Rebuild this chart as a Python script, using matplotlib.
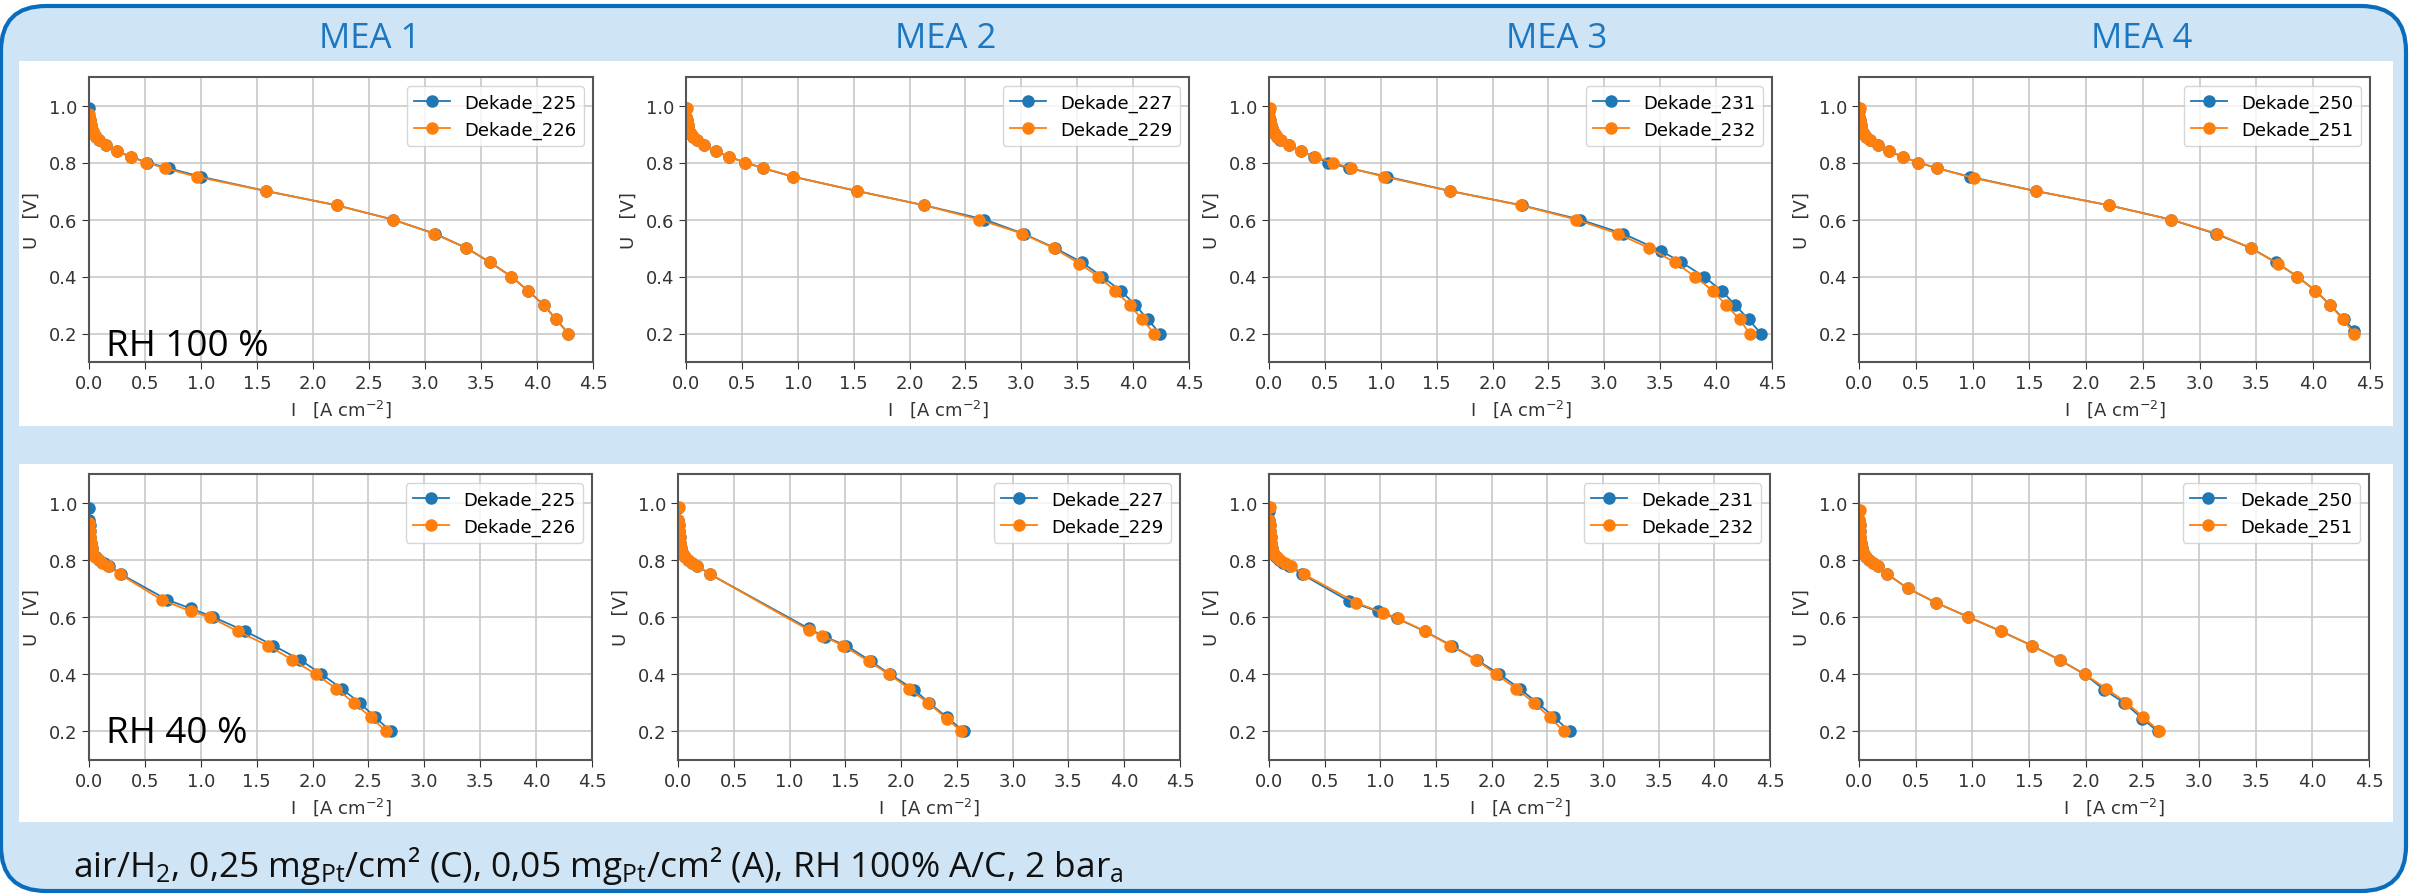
import matplotlib
matplotlib.use("Agg")
import matplotlib.pyplot as plt
from matplotlib.patches import FancyBboxPatch, Rectangle

# --- values: current density I [A/cm2], cell voltage U [V] ---
mea_titles = ["MEA 1", "MEA 2", "MEA 3", "MEA 4"]
rh_labels = ["RH 100 %", "RH 40 %"]
names = [["Dekade_225", "Dekade_226"], ["Dekade_227", "Dekade_229"],
         ["Dekade_231", "Dekade_232"], ["Dekade_250", "Dekade_251"]]

# RH 100 %
u_m1_100_a = [0.99, 0.96, 0.95, 0.94, 0.93, 0.92, 0.91, 0.90, 0.89, 0.88, 0.86, 0.84, 0.82, 0.80, 0.78, 0.75, 0.70, 0.65, 0.60, 0.55, 0.50, 0.45, 0.40, 0.35, 0.30, 0.25, 0.20]
i_m1_100_a = [0.0, 0.003, 0.006, 0.01, 0.015, 0.02, 0.03, 0.045, 0.06, 0.085, 0.155, 0.25, 0.375, 0.52, 0.71, 1.00, 1.58, 2.21, 2.71, 3.09, 3.37, 3.58, 3.77, 3.92, 4.06, 4.17, 4.28]
u_m1_100_b = [0.97, 0.96, 0.95, 0.94, 0.93, 0.92, 0.91, 0.90, 0.89, 0.88, 0.86, 0.84, 0.82, 0.80, 0.78, 0.75, 0.70, 0.65, 0.60, 0.55, 0.50, 0.45, 0.40, 0.35, 0.30, 0.25, 0.20]
i_m1_100_b = [0.0, 0.004, 0.007, 0.011, 0.016, 0.022, 0.032, 0.045, 0.06, 0.085, 0.155, 0.25, 0.375, 0.51, 0.68, 0.96, 1.58, 2.21, 2.71, 3.08, 3.37, 3.58, 3.77, 3.92, 4.06, 4.17, 4.28]

u_m2_100_a = [0.99, 0.96, 0.95, 0.94, 0.93, 0.92, 0.91, 0.90, 0.89, 0.88, 0.86, 0.84, 0.82, 0.80, 0.78, 0.75, 0.70, 0.65, 0.60, 0.55, 0.50, 0.45, 0.40, 0.35, 0.30, 0.25, 0.20]
i_m2_100_a = [0.0, 0.004, 0.007, 0.01, 0.015, 0.02, 0.03, 0.045, 0.065, 0.095, 0.165, 0.265, 0.385, 0.53, 0.69, 0.96, 1.53, 2.13, 2.67, 3.02, 3.30, 3.54, 3.72, 3.89, 4.02, 4.13, 4.24]
u_m2_100_b = [0.99, 0.96, 0.95, 0.94, 0.93, 0.92, 0.91, 0.90, 0.89, 0.88, 0.86, 0.84, 0.82, 0.80, 0.78, 0.75, 0.70, 0.65, 0.60, 0.55, 0.50, 0.445, 0.40, 0.35, 0.30, 0.25, 0.20]
i_m2_100_b = [0.01, 0.004, 0.007, 0.01, 0.015, 0.02, 0.03, 0.045, 0.065, 0.095, 0.165, 0.265, 0.385, 0.53, 0.69, 0.96, 1.53, 2.13, 2.62, 3.01, 3.29, 3.52, 3.69, 3.84, 3.97, 4.08, 4.19]

u_m3_100_a = [0.98, 0.96, 0.95, 0.94, 0.93, 0.92, 0.91, 0.90, 0.89, 0.88, 0.86, 0.84, 0.82, 0.80, 0.78, 0.75, 0.70, 0.65, 0.60, 0.55, 0.49, 0.45, 0.40, 0.35, 0.30, 0.25, 0.20]
i_m3_100_a = [0.0, 0.004, 0.008, 0.012, 0.018, 0.025, 0.035, 0.05, 0.07, 0.10, 0.18, 0.285, 0.405, 0.53, 0.715, 1.06, 1.62, 2.26, 2.78, 3.17, 3.505, 3.69, 3.89, 4.05, 4.17, 4.29, 4.40]
u_m3_100_b = [0.99, 0.96, 0.95, 0.94, 0.93, 0.92, 0.91, 0.90, 0.89, 0.88, 0.86, 0.84, 0.82, 0.80, 0.78, 0.75, 0.70, 0.65, 0.60, 0.55, 0.50, 0.45, 0.40, 0.35, 0.30, 0.25, 0.20]
i_m3_100_b = [0.01, 0.004, 0.008, 0.012, 0.018, 0.025, 0.035, 0.05, 0.07, 0.105, 0.18, 0.285, 0.41, 0.57, 0.735, 1.03, 1.62, 2.25, 2.75, 3.12, 3.40, 3.63, 3.81, 3.97, 4.09, 4.21, 4.30]

u_m4_100_a = [0.98, 0.96, 0.95, 0.94, 0.93, 0.92, 0.91, 0.90, 0.89, 0.88, 0.86, 0.84, 0.82, 0.80, 0.78, 0.75, 0.70, 0.65, 0.60, 0.55, 0.50, 0.45, 0.40, 0.35, 0.30, 0.25, 0.21]
i_m4_100_a = [0.0, 0.004, 0.007, 0.01, 0.015, 0.02, 0.03, 0.045, 0.065, 0.10, 0.165, 0.265, 0.385, 0.52, 0.69, 0.975, 1.555, 2.20, 2.745, 3.14, 3.45, 3.67, 3.86, 4.02, 4.15, 4.27, 4.36]
u_m4_100_b = [0.99, 0.96, 0.95, 0.94, 0.93, 0.92, 0.91, 0.90, 0.89, 0.88, 0.86, 0.84, 0.82, 0.80, 0.78, 0.745, 0.70, 0.65, 0.60, 0.55, 0.50, 0.445, 0.40, 0.35, 0.30, 0.25, 0.20]
i_m4_100_b = [0.01, 0.004, 0.007, 0.01, 0.015, 0.02, 0.03, 0.045, 0.065, 0.10, 0.165, 0.265, 0.385, 0.52, 0.69, 1.015, 1.555, 2.20, 2.745, 3.155, 3.45, 3.69, 3.86, 4.02, 4.15, 4.26, 4.36]

# RH 40 %
u_m1_40_a = [0.98, 0.94, 0.92, 0.90, 0.88, 0.86, 0.84, 0.82, 0.81, 0.80, 0.79, 0.78, 0.75, 0.66, 0.63, 0.60, 0.55, 0.50, 0.45, 0.40, 0.35, 0.30, 0.25, 0.20]
i_m1_40_a = [0.0, 0.003, 0.006, 0.009, 0.013, 0.018, 0.025, 0.04, 0.06, 0.09, 0.13, 0.18, 0.285, 0.70, 0.91, 1.11, 1.40, 1.65, 1.89, 2.08, 2.26, 2.42, 2.56, 2.70]
u_m1_40_b = [0.93, 0.92, 0.90, 0.88, 0.86, 0.84, 0.82, 0.81, 0.80, 0.79, 0.78, 0.75, 0.66, 0.62, 0.60, 0.55, 0.50, 0.45, 0.40, 0.35, 0.30, 0.25, 0.20]
i_m1_40_b = [0.0, 0.004, 0.007, 0.011, 0.016, 0.023, 0.035, 0.055, 0.085, 0.12, 0.17, 0.275, 0.65, 0.91, 1.08, 1.33, 1.60, 1.82, 2.03, 2.21, 2.37, 2.52, 2.66]

u_m2_40_a = [0.98, 0.94, 0.92, 0.90, 0.88, 0.86, 0.84, 0.82, 0.81, 0.80, 0.79, 0.78, 0.75, 0.56, 0.53, 0.50, 0.445, 0.40, 0.345, 0.30, 0.25, 0.20]
i_m2_40_a = [0.0, 0.004, 0.007, 0.01, 0.014, 0.02, 0.03, 0.045, 0.065, 0.09, 0.125, 0.17, 0.285, 1.17, 1.32, 1.51, 1.73, 1.90, 2.12, 2.25, 2.41, 2.56]
u_m2_40_b = [0.985, 0.94, 0.92, 0.90, 0.88, 0.86, 0.84, 0.82, 0.81, 0.80, 0.79, 0.78, 0.75, 0.555, 0.535, 0.50, 0.445, 0.40, 0.35, 0.30, 0.245, 0.20]
i_m2_40_b = [0.01, 0.004, 0.007, 0.01, 0.014, 0.02, 0.03, 0.045, 0.065, 0.09, 0.125, 0.17, 0.285, 1.17, 1.29, 1.48, 1.71, 1.89, 2.07, 2.24, 2.41, 2.54]

u_m3_40_a = [0.97, 0.94, 0.92, 0.90, 0.88, 0.86, 0.84, 0.82, 0.81, 0.80, 0.79, 0.78, 0.75, 0.655, 0.62, 0.595, 0.55, 0.50, 0.45, 0.40, 0.35, 0.30, 0.25, 0.20]
i_m3_40_a = [0.0, 0.004, 0.007, 0.01, 0.014, 0.02, 0.03, 0.045, 0.065, 0.09, 0.13, 0.18, 0.295, 0.72, 0.975, 1.15, 1.40, 1.64, 1.865, 2.07, 2.25, 2.41, 2.56, 2.70]
u_m3_40_b = [0.985, 0.94, 0.92, 0.90, 0.88, 0.86, 0.84, 0.82, 0.81, 0.80, 0.79, 0.78, 0.75, 0.65, 0.615, 0.595, 0.55, 0.50, 0.45, 0.40, 0.35, 0.30, 0.25, 0.20]
i_m3_40_b = [0.01, 0.004, 0.007, 0.01, 0.014, 0.02, 0.03, 0.045, 0.07, 0.10, 0.14, 0.195, 0.31, 0.785, 1.02, 1.16, 1.40, 1.63, 1.86, 2.04, 2.22, 2.38, 2.52, 2.65]

u_m4_40_a = [0.97, 0.94, 0.92, 0.90, 0.88, 0.86, 0.84, 0.82, 0.81, 0.80, 0.79, 0.78, 0.75, 0.70, 0.65, 0.60, 0.55, 0.50, 0.45, 0.40, 0.345, 0.30, 0.245, 0.20]
i_m4_40_a = [0.0, 0.003, 0.006, 0.009, 0.013, 0.018, 0.025, 0.04, 0.06, 0.085, 0.12, 0.165, 0.25, 0.43, 0.68, 0.965, 1.255, 1.525, 1.77, 1.99, 2.165, 2.34, 2.50, 2.635]
u_m4_40_b = [0.975, 0.94, 0.92, 0.90, 0.88, 0.86, 0.84, 0.82, 0.81, 0.80, 0.79, 0.78, 0.75, 0.70, 0.65, 0.60, 0.55, 0.50, 0.45, 0.40, 0.35, 0.30, 0.25, 0.20]
i_m4_40_b = [0.01, 0.003, 0.006, 0.009, 0.013, 0.018, 0.025, 0.04, 0.06, 0.085, 0.12, 0.165, 0.25, 0.43, 0.68, 0.965, 1.255, 1.525, 1.77, 1.99, 2.18, 2.36, 2.51, 2.65]

rows = [
    [((i_m1_100_a, u_m1_100_a), (i_m1_100_b, u_m1_100_b)),
     ((i_m2_100_a, u_m2_100_a), (i_m2_100_b, u_m2_100_b)),
     ((i_m3_100_a, u_m3_100_a), (i_m3_100_b, u_m3_100_b)),
     ((i_m4_100_a, u_m4_100_a), (i_m4_100_b, u_m4_100_b))],
    [((i_m1_40_a, u_m1_40_a), (i_m1_40_b, u_m1_40_b)),
     ((i_m2_40_a, u_m2_40_a), (i_m2_40_b, u_m2_40_b)),
     ((i_m3_40_a, u_m3_40_a), (i_m3_40_b, u_m3_40_b)),
     ((i_m4_40_a, u_m4_40_a), (i_m4_40_b, u_m4_40_b))],
]

# --- layout (pixels of the 2412x895 picture) ---
W, H = 2412, 895
light_blue = "#cfe5f5"
frame_blue = "#0a6cbd"
title_blue = "#1c77c3"
colors = ["#1f77b4", "#ff7f0e"]

fig = plt.figure(figsize=(W / 100, H / 100), dpi=100)
fig.patch.set_facecolor("white")

bg = fig.add_axes([0, 0, 1, 1], zorder=-1)
bg.set_xlim(0, W)
bg.set_ylim(H, 0)
bg.axis("off")
bg.add_patch(FancyBboxPatch((1, 7), 2405, 885, boxstyle="round,pad=0,rounding_size=45",
                            facecolor=light_blue, edgecolor=frame_blue, linewidth=3))
bg.add_patch(Rectangle((19, 62), 2374, 365, facecolor="white", edgecolor="none"))
bg.add_patch(Rectangle((19, 465), 2374, 358, facecolor="white", edgecolor="none"))

lefts = [[89, 686, 1269, 1859], [89, 678, 1269, 1859]]
widths = [[504, 503, 503, 511], [503, 502, 501, 510]]
tops = [78, 475]
heights = [285, 286]

for r in range(2):
    for c in range(4):
        x0, w = lefts[r][c], widths[r][c]
        ax = fig.add_axes([x0 / W, 1 - (tops[r] + heights[r]) / H, w / W, heights[r] / H])
        for k in range(2):
            xs, ys = rows[r][c][k]
            ax.plot(xs, ys, "o-", color=colors[k], markersize=8, linewidth=1.3,
                    label=names[c][k])
        ax.set_xlim(0, 4.5)
        ax.set_ylim(0.1, 1.1)
        ax.set_xticks([0, 0.5, 1.0, 1.5, 2.0, 2.5, 3.0, 3.5, 4.0, 4.5])
        ax.set_yticks([0.2, 0.4, 0.6, 0.8, 1.0])
        ax.grid(True, color="#c8c8c8", linewidth=1.2)
        ax.set_axisbelow(True)
        ax.tick_params(labelsize=13, colors="#333333", length=5)
        for s in ax.spines.values():
            s.set_color("#555555")
            s.set_linewidth(1.5)
        ax.set_xlabel(r"I   [A cm$^{-2}$]", fontsize=13, color="#333333", labelpad=4)
        ax.set_ylabel("U   [V]", fontsize=13, color="#333333", labelpad=6)
        ax.legend(loc="upper right", fontsize=13, handlelength=2.0, borderpad=0.4)

title_x = [370, 946, 1557, 2142]
for c in range(4):
    fig.text(title_x[c] / W, 1 - 39 / H, mea_titles[c], fontsize=25, family="Open Sans",
             color=title_blue, ha="center", va="center")

fig.text(106 / W, 1 - 356 / H, rh_labels[0], fontsize=26.5, family="Open Sans",
         color="black", va="baseline")
fig.text(106 / W, 1 - 743 / H, rh_labels[1], fontsize=26.5, family="Open Sans",
         color="black", va="baseline")

caption = (r"air/H$\mathregular{_2}$, 0,25 mg$\mathregular{_{Pt}}$/cm² (C), "
           r"0,05 mg$\mathregular{_{Pt}}$/cm² (A), RH 100% A/C, 2 bar$\mathregular{_a}$")
fig.text(73 / W, 1 - 877 / H, caption, fontsize=25.5, family="Open Sans",
         color="#111111", va="baseline")

fig.savefig("out.png", dpi=100)
